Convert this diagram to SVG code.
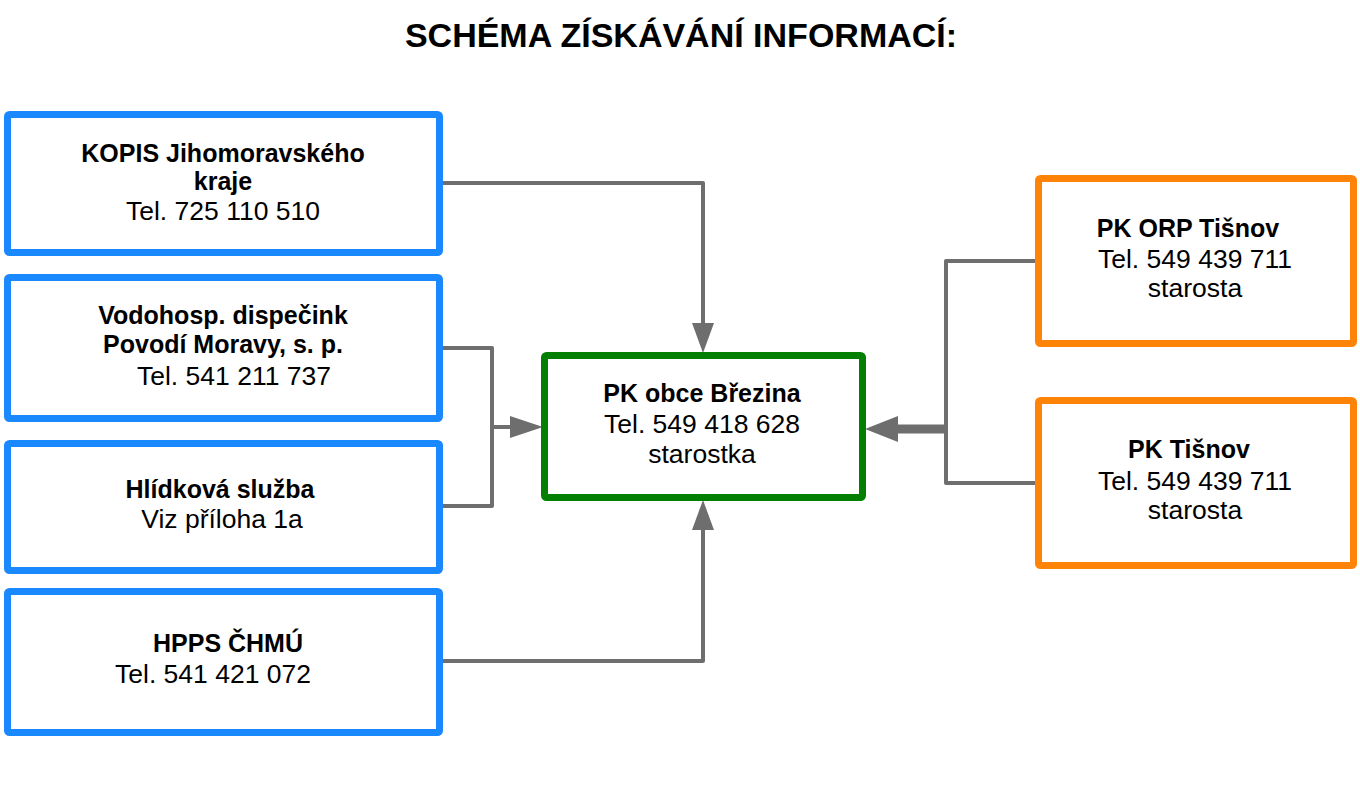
<svg xmlns="http://www.w3.org/2000/svg" width="1360" height="787" viewBox="0 0 1360 787">
<style>
text{font-family:"Liberation Sans",Arial,sans-serif;fill:#000;text-anchor:middle}
.t{font-size:34px;font-weight:bold}
.b{font-size:25px;font-weight:bold}
.r{font-size:26.5px}
.blue{fill:#fff;stroke:#1a88ff;stroke-width:7}
.green{fill:#fff;stroke:#037f03;stroke-width:7}
.orange{fill:#fff;stroke:#ff8306;stroke-width:7}
.ln{fill:none;stroke:#6e6e6e;stroke-width:4;stroke-linejoin:round}
.ah{fill:#6e6e6e}
</style>
<rect width="1360" height="787" fill="#fff"/>
<text class="t" x="681" y="47">SCHÉMA ZÍSKÁVÁNÍ INFORMACÍ:</text>

<g id="connectors">
<polyline class="ln" points="443,183 703,183 703,325"/>
<polygon class="ah" points="692,323 714,323 703,353"/>
<polyline class="ln" points="443,661 703,661 703,528"/>
<polygon class="ah" points="692,530 714,530 703,500"/>
<polyline class="ln" points="443,348 492,348 492,506 443,506"/>
<line class="ln" x1="492" y1="427" x2="512" y2="427"/>
<polygon class="ah" points="510,416 510,438 543,427"/>
<polyline class="ln" points="1035,261 946,261 946,483 1035,483"/>
<line x1="946" y1="429" x2="896" y2="429" stroke="#6e6e6e" stroke-width="9"/>
<polygon class="ah" points="898,416 898,442 865,429"/>
</g>

<g id="kopis">
<rect class="blue" x="7.5" y="114.5" width="432" height="138" rx="2"/>
<text class="b" x="223" y="162">KOPIS Jihomoravského</text>
<text class="b" x="223" y="190">kraje</text>
<text class="r" x="223" y="220">Tel. 725 110 510</text>
</g>

<g id="vodohosp">
<rect class="blue" x="7.5" y="277.5" width="432" height="141" rx="2"/>
<text class="b" x="223" y="324">Vodohosp. dispečink</text>
<text class="b" x="223" y="353">Povodí Moravy, s. p.</text>
<text class="r" x="234" y="385">Tel. 541 211 737</text>
</g>

<g id="hlidkova">
<rect class="blue" x="7.5" y="443.5" width="432" height="127" rx="2"/>
<text class="b" x="220" y="498">Hlídková služba</text>
<text class="r" x="222" y="528">Viz příloha 1a</text>
</g>

<g id="hpps">
<rect class="blue" x="7.5" y="591.5" width="432" height="141" rx="2"/>
<text class="b" x="228" y="652">HPPS ČHMÚ</text>
<text class="r" x="213" y="683">Tel. 541 421 072</text>
</g>

<g id="brezina">
<rect class="green" x="544.5" y="355.5" width="318" height="142" rx="2"/>
<text class="b" x="702" y="402">PK obce Březina</text>
<text class="r" x="702" y="433">Tel. 549 418 628</text>
<text class="r" x="702" y="463">starostka</text>
</g>

<g id="orp-tisnov">
<rect class="orange" x="1038.5" y="178.5" width="315" height="165" rx="2"/>
<text class="b" x="1188" y="237">PK ORP Tišnov</text>
<text class="r" x="1195" y="268">Tel. 549 439 711</text>
<text class="r" x="1195" y="297">starosta</text>
</g>

<g id="pk-tisnov">
<rect class="orange" x="1038.5" y="400.5" width="315" height="165" rx="2"/>
<text class="b" x="1189" y="458">PK Tišnov</text>
<text class="r" x="1195" y="490">Tel. 549 439 711</text>
<text class="r" x="1195" y="519">starosta</text>
</g>
</svg>
